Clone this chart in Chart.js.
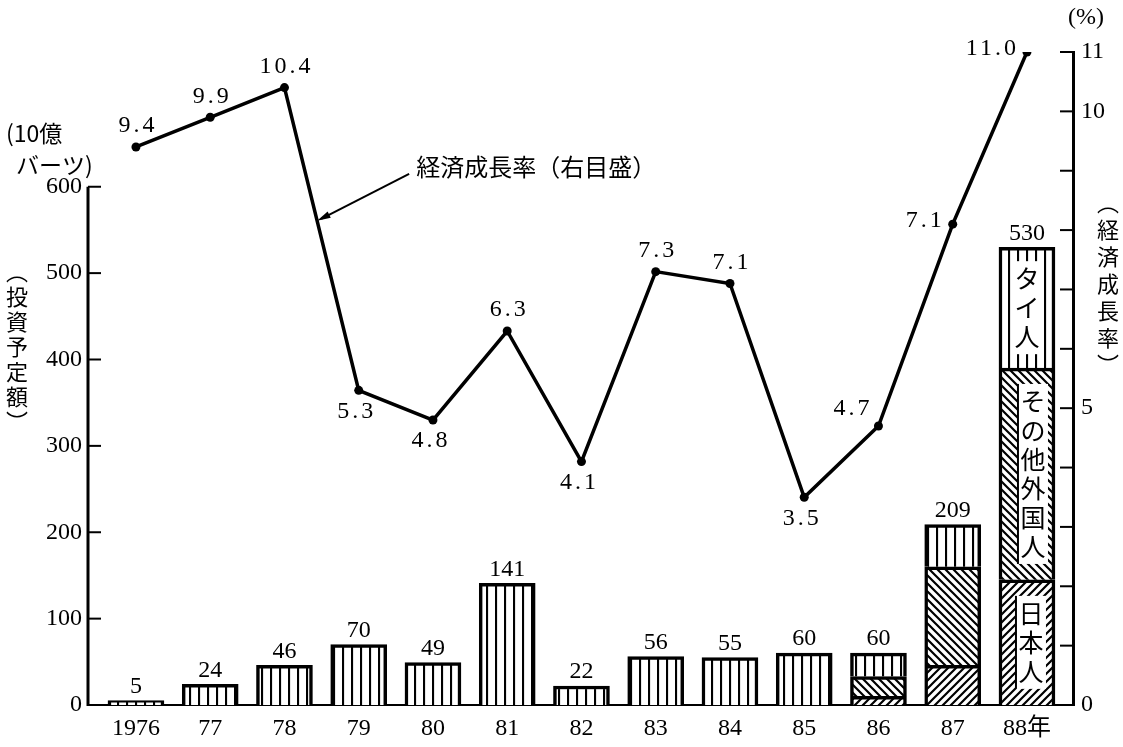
<!DOCTYPE html>
<html>
<head>
<meta charset="utf-8">
<script src="https://cdn.jsdelivr.net/npm/chart.js@4.4.0/dist/chart.umd.min.js"></script>
<style>
  html, body { margin: 0; padding: 0; background: #fff; }
</style>
</head>
<body>
<canvas id="chart" width="1123" height="747"></canvas>
<script>
const years = ['1976', '77', '78', '79', '80', '81', '82', '83', '84', '85', '86', '87', '88年']
// investment plans (1 billion baht), stacked by investor
const japan = [null, null, null, null, null, null, null, null, null, null, 10, 46, 145]
const other = [null, null, null, null, null, null, null, null, null, null, 23, 114, 245]
const thai = [5, 24, 46, 70, 49, 141, 22, 56, 55, 60, 27, 49, 140]
// economic growth rate (%), plotted where the picture draws it, labelled as printed
const growth = [9.4, 9.9, 10.4, 5.3, 4.8, 6.3, 4.1, 7.3, 7.1, 3.5, 4.7, 8.1, 11.0]
const growthText = ['9.4', '9.9', '10.4', '5.3', '4.8', '6.3', '4.1', '7.3', '7.1', '3.5', '4.7', '7.1', '11.0']
const leftTicks = [0, 100, 200, 300, 400, 500, 600]
const rightTicks = [0, 5, 10, 11]

// where each growth label sits relative to its point
const growthPos = ['up', 'up', 'up', 'down', 'down', 'up', 'down', 'up', 'up', 'down', 'upleft', 'left', 'left']

const NUM_FONT = '"Liberation Serif", "Noto Sans CJK JP", serif'
const JP_FONT = '"Noto Sans CJK JP", sans-serif'

const ctx = document.getElementById('chart').getContext('2d')

function hatch(kind){
    const s = kind == 'v' ? 9 : 8
    const c = document.createElement('canvas')
    c.width = s
    c.height = s
    const g = c.getContext('2d')
    g.fillStyle = '#fff'
    g.fillRect(0, 0, s, s)
    g.strokeStyle = '#000'
    g.lineWidth = 2.2
    g.beginPath()
    if(kind == 'v'){
        g.moveTo(1, 0); g.lineTo(1, s)
    } else if(kind == 'f'){
        g.moveTo(-1, s + 1); g.lineTo(s + 1, -1)
        g.moveTo(-2, 2); g.lineTo(2, -2)
        g.moveTo(s - 2, s + 2); g.lineTo(s + 2, s - 2)
    } else {
        g.moveTo(-1, -1); g.lineTo(s + 1, s + 1)
        g.moveTo(s - 2, -2); g.lineTo(s + 2, 2)
        g.moveTo(-2, s - 2); g.lineTo(2, s + 2)
    }
    g.stroke()
    return ctx.createPattern(c, 'repeat')
}

const toXY = arr => arr.map((v, i) => ({x: i, y: v}))

function drawVertical(c, chars, x, yTop, step){
    for(let i = 0; i < chars.length; i++){
        c.fillText(chars[i], x, yTop + i * step)
    }
}

const decor = {
    id: 'decor',
    afterDatasetsDraw(chart){
        const c = chart.ctx
        const {left, right} = chart.chartArea
        const yL = chart.scales.y
        const yR = chart.scales.y2
        c.save()
        c.strokeStyle = '#000'
        c.fillStyle = '#000'

        // left axis only runs up to 600
        c.lineWidth = 3
        c.beginPath()
        c.moveTo(left, yL.getPixelForValue(0) + 1)
        c.lineTo(left, yL.getPixelForValue(600))
        c.stroke()
        c.lineWidth = 2
        for(const v of leftTicks){
            const y = yL.getPixelForValue(v)
            c.beginPath(); c.moveTo(left, y); c.lineTo(left + 13, y); c.stroke()
        }
        for(let v = 0; v <= 11; v++){
            const y = yR.getPixelForValue(v)
            c.beginPath(); c.moveTo(right - 13, y); c.lineTo(right, y); c.stroke()
        }

        // totals above the bars
        const barMetas = [0, 1, 2].map(i => chart.getDatasetMeta(i))
        c.font = '24px ' + NUM_FONT
        c.textAlign = 'center'
        c.textBaseline = 'bottom'
        for(let i = 0; i < years.length; i++){
            const total = (japan[i] || 0) + (other[i] || 0) + (thai[i] || 0)
            const top = Math.min(...barMetas.map(m => m.data[i] && !isNaN(m.data[i].y) ? m.data[i].y : Infinity))
            c.fillText(String(total), barMetas[2].data[i].x, top - 2)
        }

        // words written inside the 1988 bar
        const inner = [[2, 'タイ人', 0, false], [1, 'その他外国人', 6, true], [0, '日本人', 4, true]]
        c.font = '25px ' + JP_FONT
        c.textBaseline = 'middle'
        for(const [ds, word, dx, edge] of inner){
            const el = barMetas[ds].data[12]
            const step = 29
            const mid = (el.y + el.base) / 2
            const h = word.length * step + 6
            const cx = el.x + dx
            c.fillStyle = '#fff'
            c.fillRect(cx - 15, mid - h / 2, 30, h)
            if(edge){
                c.lineWidth = 2
                c.beginPath(); c.moveTo(cx - 15, mid - h / 2); c.lineTo(cx - 15, mid + h / 2); c.stroke()
            }
            c.fillStyle = '#000'
            drawVertical(c, word, cx, mid - h / 2 + 3 + step / 2, step)
        }

        // growth labels
        const pts = chart.getDatasetMeta(3).data
        c.font = '24px ' + NUM_FONT
        c.letterSpacing = '3px'
        for(let i = 0; i < pts.length; i++){
            const p = pts[i]
            const pos = growthPos[i]
            if(pos == 'up'){
                c.textAlign = 'center'; c.textBaseline = 'bottom'
                c.fillText(growthText[i], p.x + 2, p.y - 9)
            } else if(pos == 'down'){
                c.textAlign = 'center'; c.textBaseline = 'top'
                c.fillText(growthText[i], p.x - 2, p.y + 9)
            } else if(pos == 'upleft'){
                c.textAlign = 'right'; c.textBaseline = 'bottom'
                c.fillText(growthText[i], p.x - 6, p.y - 5)
            } else {
                c.textAlign = 'right'; c.textBaseline = 'middle'
                c.fillText(growthText[i], p.x - 8, p.y - 3)
            }
        }
        c.letterSpacing = '0px'

        // arrow pointing at the growth line
        const a = pts[2], b = pts[3]
        const t = 0.44
        const tipX = a.x + (b.x - a.x) * t
        const tipY = a.y + (b.y - a.y) * t
        const sx = tipX + 92, sy = tipY - 47
        c.lineWidth = 2
        c.beginPath(); c.moveTo(sx, sy); c.lineTo(tipX + 4, tipY - 2); c.stroke()
        const ang = Math.atan2(tipY - sy, tipX - sx)
        c.beginPath()
        c.moveTo(tipX, tipY)
        c.lineTo(tipX - 14 * Math.cos(ang - 0.25), tipY - 14 * Math.sin(ang - 0.25))
        c.lineTo(tipX - 14 * Math.cos(ang + 0.25), tipY - 14 * Math.sin(ang + 0.25))
        c.closePath()
        c.fill()
        c.font = '24px ' + JP_FONT
        c.textAlign = 'left'; c.textBaseline = 'middle'
        c.fillText('経済成長率（右目盛）', sx + 7, sy - 7)

        // axis titles
        c.font = '23px ' + JP_FONT
        c.textAlign = 'left'; c.textBaseline = 'middle'
        c.fillText('(10億', 6, 133)
        c.fillText('バーツ)', 16, 165)
        c.font = '24px ' + NUM_FONT
        c.fillText('(%)', 1068, 18)
        c.font = '22px ' + JP_FONT
        c.textAlign = 'center'
        drawVertical(c, '︵投資予定額︶', 17, 272, 25)
        drawVertical(c, '︵経済成長率︶', 1108, 203, 27)
        c.restore()
    }
}

new Chart(ctx, {
    data: {
        datasets: [
            {
                type: 'bar',
                label: '日本人',
                data: toXY(japan),
                backgroundColor: hatch('f'),
                borderColor: '#000',
                borderWidth: 3.5,
                barThickness: 56,
                order: 1,
            },
            {
                type: 'bar',
                label: 'その他外国人',
                data: toXY(other),
                backgroundColor: hatch('b'),
                borderColor: '#000',
                borderWidth: 3.5,
                barThickness: 56,
                order: 1,
            },
            {
                type: 'bar',
                label: 'タイ人',
                data: toXY(thai),
                backgroundColor: hatch('v'),
                borderColor: '#000',
                borderWidth: 3.5,
                barThickness: 56,
                order: 1,
            },
            {
                type: 'line',
                label: '経済成長率',
                data: toXY(growth),
                yAxisID: 'y2',
                borderColor: '#000',
                borderWidth: 3.5,
                pointRadius: 4.5,
                pointBackgroundColor: '#000',
                pointBorderWidth: 0,
                tension: 0,
                order: 0,
            }
        ]
    },
    options: {
        responsive: false,
        animation: false,
        layout: { padding: { top: 52, left: 0, right: 0, bottom: 0 } },
        plugins: {
            legend: { display: false },
            tooltip: { enabled: false },
        },
        scales: {
            x: {
                type: 'linear',
                stacked: true,
                offset: false,
                min: -0.646,
                max: 12.62,
                afterBuildTicks: s => { s.ticks = years.map((_, i) => ({value: i})) },
                afterFit: s => { s.height = 42 },
                grid: { display: false, drawTicks: false, offset: false },
                border: { display: true, color: '#000', width: 2 },
                ticks: {
                    color: '#000',
                    font: { family: NUM_FONT, size: 24 },
                    padding: 9,
                    maxRotation: 0,
                    autoSkip: false,
                    callback: v => years[v] ?? '',
                }
            },
            y: {
                stacked: true,
                position: 'left',
                min: 0,
                max: 756,
                afterBuildTicks: s => { s.ticks = leftTicks.map(v => ({value: v})) },
                afterFit: s => { s.width = 88 },
                grid: { display: false, drawTicks: false },
                border: { display: false },
                ticks: {
                    color: '#000',
                    font: { family: NUM_FONT, size: 24 },
                    padding: 6,
                }
            },
            y2: {
                position: 'right',
                min: 0,
                max: 11,
                afterBuildTicks: s => { s.ticks = Array.from({length: 12}, (_, v) => ({value: v})) },
                afterFit: s => { s.width = 50 },
                grid: { display: false, drawTicks: false },
                border: { display: true, color: '#000', width: 3 },
                ticks: {
                    color: '#000',
                    font: { family: NUM_FONT, size: 24 },
                    padding: 8,
                    callback: v => rightTicks.includes(v) ? String(v) : '',
                }
            }
        }
    },
    plugins: [decor]
})
</script>
</body>
</html>
